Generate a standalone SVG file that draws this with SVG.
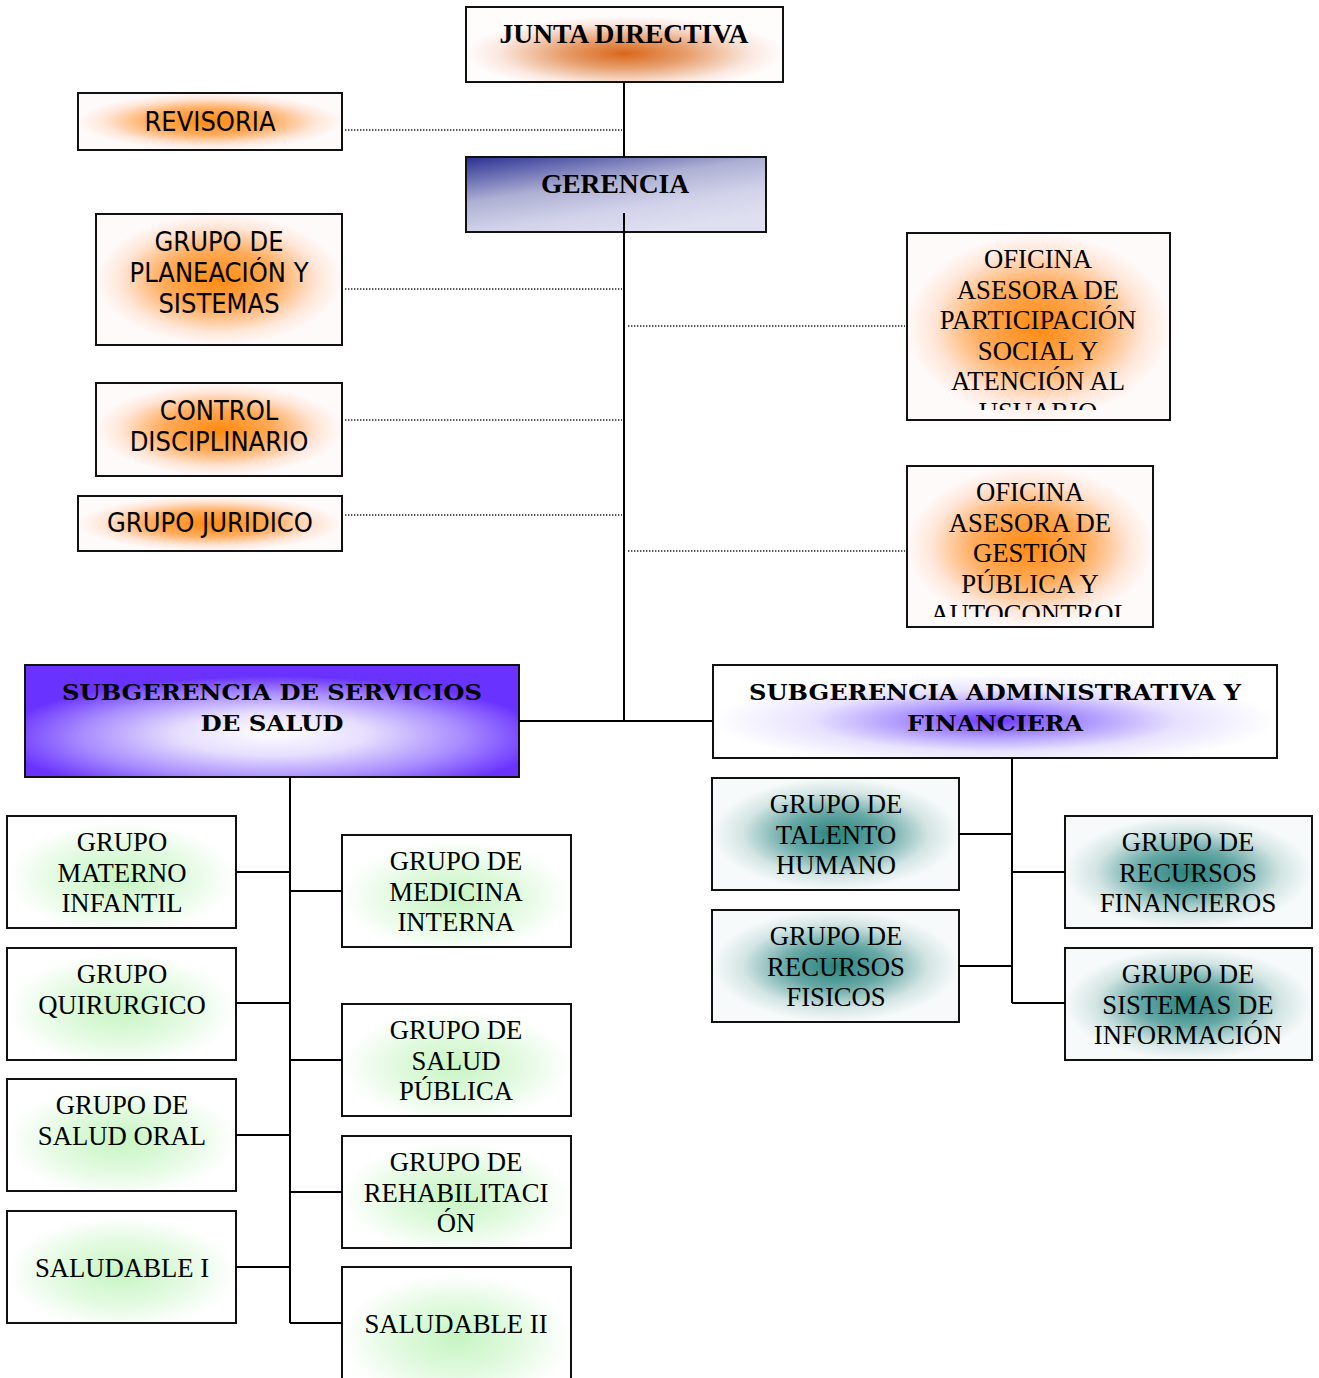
<svg xmlns="http://www.w3.org/2000/svg" width="1319" height="1378" viewBox="0 0 1319 1378">
<style>
.box{stroke:#111;stroke-width:2}
.serif{font-family:"Liberation Serif","Times New Roman",serif;font-size:26.7px;fill:#000;text-anchor:middle}
.bold{font-weight:bold;font-size:27.5px}
.sans{font-family:"DejaVu Sans Condensed","DejaVu Sans",sans-serif;font-stretch:condensed;font-size:27px;fill:#000;text-anchor:middle}
.sub{font-family:"DejaVu Serif","Liberation Serif",serif;font-weight:bold;font-size:23px;fill:#000;text-anchor:middle}
.solid{stroke:#000;stroke-width:2;fill:none}
.dot{stroke:#222;stroke-width:1.4;stroke-dasharray:1.4 1.6;fill:none}
</style>
<defs>
<radialGradient id="gOrange" cx="0.5" cy="0.5" r="0.5">
<stop offset="0" stop-color="#ff8a10"/>
<stop offset="0.45" stop-color="#ffab5a"/>
<stop offset="0.8" stop-color="#ffe6d8"/>
<stop offset="1" stop-color="#fffafa"/>
</radialGradient>
<radialGradient id="gJunta" cx="0.5" cy="0.62" r="0.5" fx="0.5" fy="0.62">
<stop offset="0" stop-color="#d9661a"/>
<stop offset="0.4" stop-color="#e8a070"/>
<stop offset="0.8" stop-color="#fbe8e0"/>
<stop offset="1" stop-color="#fffcfc"/>
</radialGradient>
<linearGradient id="gGer" x1="0" y1="0" x2="0.6" y2="1">
<stop offset="0" stop-color="#2a2f92"/>
<stop offset="0.45" stop-color="#aeb0d4"/>
<stop offset="0.75" stop-color="#d2d3ea"/>
<stop offset="1" stop-color="#dedff0"/>
</linearGradient>
<radialGradient id="gSubS" cx="0.5" cy="0.65" r="0.55" fx="0.5" fy="0.6">
<stop offset="0" stop-color="#ffffff"/>
<stop offset="0.35" stop-color="#e6defe"/>
<stop offset="0.7" stop-color="#a88cff"/>
<stop offset="1" stop-color="#6a32ff"/>
</radialGradient>
<radialGradient id="gSubA" cx="0.5" cy="0.6" r="0.5">
<stop offset="0" stop-color="#6a36ff"/>
<stop offset="0.3" stop-color="#a890ff"/>
<stop offset="0.65" stop-color="#e8e2ff"/>
<stop offset="1" stop-color="#ffffff"/>
</radialGradient>
<radialGradient id="gGreen" cx="0.5" cy="0.55" r="0.5">
<stop offset="0" stop-color="#c6f5c2"/>
<stop offset="0.55" stop-color="#e2fae0"/>
<stop offset="1" stop-color="#ffffff"/>
</radialGradient>
<radialGradient id="gTeal" cx="0.5" cy="0.5" r="0.5">
<stop offset="0" stop-color="#2a827e"/>
<stop offset="0.4" stop-color="#67a9a6"/>
<stop offset="0.75" stop-color="#d3e5e4"/>
<stop offset="1" stop-color="#f7fafa"/>
</radialGradient>
<clipPath id="clip1"><rect x="908" y="234" width="261" height="176"/></clipPath>
<clipPath id="clip2"><rect x="908" y="467" width="244" height="150"/></clipPath>
</defs>
<rect width="1319" height="1378" fill="#fff"/>

<g id="junta">
<rect class="box" x="466" y="7" width="317" height="75" fill="url(#gJunta)"/>
<text class="serif bold" x="624" y="43">JUNTA DIRECTIVA</text>
</g>
<g id="revisoria">
<rect class="box" x="78" y="93" width="264" height="57" fill="url(#gOrange)"/>
<text class="sans" x="210" y="131">REVISORIA</text>
</g>
<g id="gerencia">
<rect class="box" x="466" y="157" width="300" height="75" fill="url(#gGer)"/>
<text class="serif bold" x="615" y="193">GERENCIA</text>
</g>
<g id="planeacion">
<rect class="box" x="96" y="214" width="246" height="131" fill="url(#gOrange)"/>
<text class="sans" x="219" y="251">GRUPO DE</text>
<text class="sans" x="219" y="282">PLANEACIÓN Y</text>
<text class="sans" x="219" y="313">SISTEMAS</text>
</g>
<g id="control">
<rect class="box" x="96" y="383" width="246" height="93" fill="url(#gOrange)"/>
<text class="sans" x="219" y="420">CONTROL</text>
<text class="sans" x="219" y="451">DISCIPLINARIO</text>
</g>
<g id="juridico">
<rect class="box" x="78" y="496" width="264" height="55" fill="url(#gOrange)"/>
<text class="sans" x="210" y="532">GRUPO JURIDICO</text>
</g>
<g id="oficina-participacion">
<rect class="box" x="907" y="233" width="263" height="187" fill="url(#gOrange)"/>
<g clip-path="url(#clip1)">
<text class="serif" x="1038" y="268">OFICINA</text>
<text class="serif" x="1038" y="298.5">ASESORA DE</text>
<text class="serif" x="1038" y="329">PARTICIPACIÓN</text>
<text class="serif" x="1038" y="359.5">SOCIAL Y</text>
<text class="serif" x="1038" y="390">ATENCIÓN AL</text>
<text class="serif" x="1038" y="420.5">USUARIO</text>
</g>
</g>
<g id="oficina-gestion">
<rect class="box" x="907" y="466" width="246" height="161" fill="url(#gOrange)"/>
<g clip-path="url(#clip2)">
<text class="serif" x="1030" y="501">OFICINA</text>
<text class="serif" x="1030" y="531.5">ASESORA DE</text>
<text class="serif" x="1030" y="562">GESTIÓN</text>
<text class="serif" x="1030" y="592.5">PÚBLICA Y</text>
<text class="serif" x="1030" y="623">AUTOCONTROL</text>
</g>
</g>
<g id="subgerencia-salud">
<rect class="box" x="25" y="665" width="494" height="112" fill="url(#gSubS)"/>
<text class="sub" x="272" y="700" textLength="420" lengthAdjust="spacingAndGlyphs">SUBGERENCIA DE SERVICIOS</text>
<text class="sub" x="272" y="731" textLength="143" lengthAdjust="spacingAndGlyphs">DE SALUD</text>
</g>
<g id="subgerencia-admin">
<rect class="box" x="713" y="665" width="564" height="93" fill="url(#gSubA)"/>
<text class="sub" x="995" y="700" textLength="492" lengthAdjust="spacingAndGlyphs">SUBGERENCIA ADMINISTRATIVA Y</text>
<text class="sub" x="995" y="731" textLength="176" lengthAdjust="spacingAndGlyphs">FINANCIERA</text>
</g>

<g id="materno">
<rect class="box" x="7" y="816" width="229" height="112" fill="url(#gGreen)"/>
<text class="serif" x="122" y="851">GRUPO</text>
<text class="serif" x="122" y="881.5">MATERNO</text>
<text class="serif" x="122" y="912">INFANTIL</text>
</g>
<g id="medicina">
<rect class="box" x="342" y="835" width="229" height="112" fill="url(#gGreen)"/>
<text class="serif" x="456" y="870">GRUPO DE</text>
<text class="serif" x="456" y="900.5">MEDICINA</text>
<text class="serif" x="456" y="931">INTERNA</text>
</g>
<g id="quirurgico">
<rect class="box" x="7" y="948" width="229" height="112" fill="url(#gGreen)"/>
<text class="serif" x="122" y="983">GRUPO</text>
<text class="serif" x="122" y="1013.5">QUIRURGICO</text>
</g>
<g id="salud-publica">
<rect class="box" x="342" y="1004" width="229" height="112" fill="url(#gGreen)"/>
<text class="serif" x="456" y="1039">GRUPO DE</text>
<text class="serif" x="456" y="1069.5">SALUD</text>
<text class="serif" x="456" y="1100">PÚBLICA</text>
</g>
<g id="salud-oral">
<rect class="box" x="7" y="1079" width="229" height="112" fill="url(#gGreen)"/>
<text class="serif" x="122" y="1114">GRUPO DE</text>
<text class="serif" x="122" y="1144.5">SALUD ORAL</text>
</g>
<g id="rehabilitacion">
<rect class="box" x="342" y="1136" width="229" height="112" fill="url(#gGreen)"/>
<text class="serif" x="456" y="1171">GRUPO DE</text>
<text class="serif" x="456" y="1201.5">REHABILITACI</text>
<text class="serif" x="456" y="1232">ÓN</text>
</g>
<g id="saludable-1">
<rect class="box" x="7" y="1211" width="229" height="112" fill="url(#gGreen)"/>
<text class="serif" x="122" y="1277">SALUDABLE I</text>
</g>
<g id="saludable-2">
<rect class="box" x="342" y="1267" width="229" height="130" fill="url(#gGreen)"/>
<text class="serif" x="456" y="1333">SALUDABLE II</text>
</g>

<g id="talento">
<rect class="box" x="712" y="778" width="247" height="112" fill="url(#gTeal)"/>
<text class="serif" x="836" y="813">GRUPO DE</text>
<text class="serif" x="836" y="843.5">TALENTO</text>
<text class="serif" x="836" y="874">HUMANO</text>
</g>
<g id="fisicos">
<rect class="box" x="712" y="910" width="247" height="112" fill="url(#gTeal)"/>
<text class="serif" x="836" y="945">GRUPO DE</text>
<text class="serif" x="836" y="975.5">RECURSOS</text>
<text class="serif" x="836" y="1006">FISICOS</text>
</g>
<g id="financieros">
<rect class="box" x="1065" y="816" width="247" height="112" fill="url(#gTeal)"/>
<text class="serif" x="1188" y="851">GRUPO DE</text>
<text class="serif" x="1188" y="881.5">RECURSOS</text>
<text class="serif" x="1188" y="912">FINANCIEROS</text>
</g>
<g id="sistemas-info">
<rect class="box" x="1065" y="948" width="247" height="112" fill="url(#gTeal)"/>
<text class="serif" x="1188" y="983">GRUPO DE</text>
<text class="serif" x="1188" y="1013.5">SISTEMAS DE</text>
<text class="serif" x="1188" y="1044">INFORMACIÓN</text>
</g>

<g id="connectors">
<path class="solid" d="M624 82V157M624 213V721M519 721H712"/>
<path class="dot" d="M345 130H622M345 289H622M345 420H622M345 515H622M628 326H905M628 551H905"/>
<path class="solid" d="M290 777V1323M236 872H290M290 891H342M236 1003H290M290 1060H342M236 1135H290M290 1192H342M236 1267H290M290 1323H342"/>
<path class="solid" d="M1012 758V1003M959 834H1012M1012 872H1065M959 966H1012M1012 1003H1065"/>
</g>
</svg>
